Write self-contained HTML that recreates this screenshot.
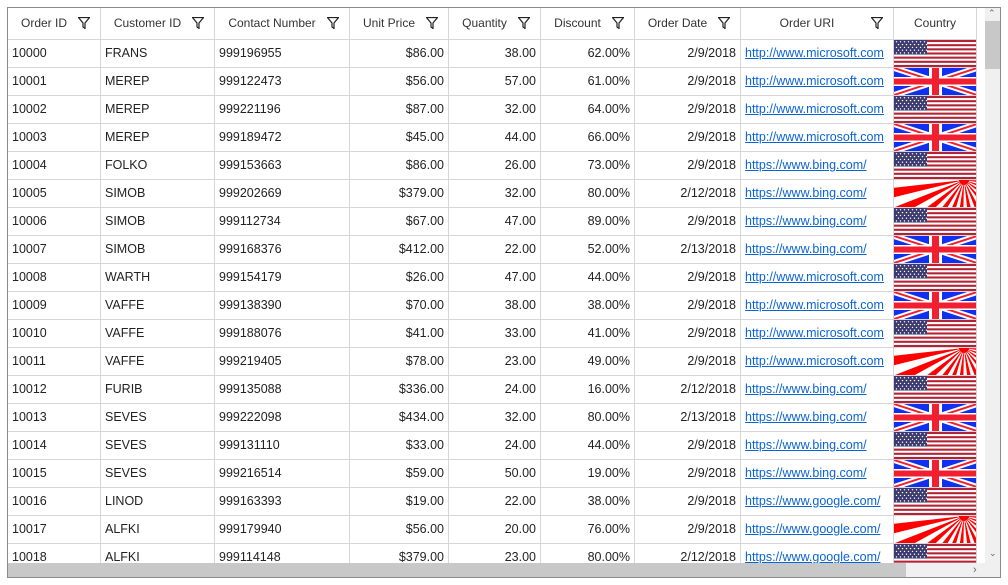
<!DOCTYPE html>
<html style="overflow:hidden;height:585px"><head><meta charset="utf-8">
<style>
body{margin:0;width:1008px;height:585px;background:#fff;font-family:"Liberation Sans",sans-serif;font-size:12.5px;color:#222;overflow:hidden;position:relative}
#grid{position:absolute;left:7px;top:7px;width:994px;height:571px;border:1px solid #8a8a8a;box-sizing:border-box;overflow:hidden}
.cell{position:absolute;box-sizing:border-box;border-right:1px solid #d6d6d6;border-bottom:1px solid #d6d6d6;height:28px;line-height:27px;padding:0 4px;white-space:nowrap;overflow:hidden}
.hd{height:32px;line-height:31px;text-align:center;color:#333;font-size:12px}
.r{text-align:right}
a{color:#0a64d6;text-decoration:underline}
.filt{position:absolute;right:10px;top:9px}
</style></head><body>
<div id="grid"></div>
<svg width="0" height="0" style="position:absolute;left:0;top:0">
<defs>
<symbol id="us" viewBox="0 0 83 27">
<rect width="83" height="27" fill="#fff"/>
<g fill="#b22234" id="stripes"></g>
<rect width="33" height="14.5" fill="#3c3b6e"/>
<g id="stars" fill="#fff"></g>
</symbol>
<symbol id="uk" viewBox="0 0 83 27">
<rect width="83" height="27" fill="#1030f0"/>
<path d="M0 0 L83 27 M83 0 L0 27" stroke="#fff" stroke-width="6"/>
<path d="M0 0 L83 27 M83 0 L0 27" stroke="#f02030" stroke-width="2"/>
<rect x="0" y="9" width="83" height="9" fill="#fff"/>
<rect x="35" y="0" width="13" height="27" fill="#fff"/>
<rect x="0" y="10.5" width="83" height="6" fill="#f02030"/>
<rect x="38" y="0" width="7" height="27" fill="#f02030"/>
</symbol>
<symbol id="jp" viewBox="0 0 83 27">
<rect width="83" height="27" fill="#fff"/>
<g id="rays" fill="#f00"></g>
<circle cx="70" cy="0" r="5" fill="#f00"/>
</symbol>
</defs>
</svg>
<script>
const orderIds=[10000,10001,10002,10003,10004,10005,10006,10007,10008,10009,10010,10011,10012,10013,10014,10015,10016,10017,10018];
const customers=["FRANS","MEREP","MEREP","MEREP","FOLKO","SIMOB","SIMOB","SIMOB","WARTH","VAFFE","VAFFE","VAFFE","FURIB","SEVES","SEVES","SEVES","LINOD","ALFKI","ALFKI"];
const contacts=["999196955","999122473","999221196","999189472","999153663","999202669","999112734","999168376","999154179","999138390","999188076","999219405","999135088","999222098","999131110","999216514","999163393","999179940","999114148"];
const prices=["$86.00","$56.00","$87.00","$45.00","$86.00","$379.00","$67.00","$412.00","$26.00","$70.00","$41.00","$78.00","$336.00","$434.00","$33.00","$59.00","$19.00","$56.00","$379.00"];
const qtys=["38.00","57.00","32.00","44.00","26.00","32.00","47.00","22.00","47.00","38.00","33.00","23.00","24.00","32.00","24.00","50.00","22.00","20.00","23.00"];
const discounts=["62.00%","61.00%","64.00%","66.00%","73.00%","80.00%","89.00%","52.00%","44.00%","38.00%","41.00%","49.00%","16.00%","80.00%","44.00%","19.00%","38.00%","76.00%","80.00%"];
const dates=["2/9/2018","2/9/2018","2/9/2018","2/9/2018","2/9/2018","2/12/2018","2/9/2018","2/13/2018","2/9/2018","2/9/2018","2/9/2018","2/9/2018","2/12/2018","2/13/2018","2/9/2018","2/9/2018","2/9/2018","2/9/2018","2/12/2018"];
const uris=["http://www.microsoft.com","http://www.microsoft.com","http://www.microsoft.com","http://www.microsoft.com","https://www.bing.com/","https://www.bing.com/","https://www.bing.com/","https://www.bing.com/","http://www.microsoft.com","http://www.microsoft.com","http://www.microsoft.com","http://www.microsoft.com","https://www.bing.com/","https://www.bing.com/","https://www.bing.com/","https://www.bing.com/","https://www.google.com/","https://www.google.com/","https://www.google.com/"];
const flags=["us","uk","us","uk","us","jp","us","uk","us","uk","us","jp","us","uk","us","uk","us","jp","us"];
const headers=["Order ID","Customer ID","Contact Number","Unit Price","Quantity","Discount","Order Date","Order URI","Country"];

const ns="http://www.w3.org/2000/svg";
const st=document.getElementById('stripes');
for(let i=0;i<13;i+=2){const r=document.createElementNS(ns,'rect');r.setAttribute('x',0);r.setAttribute('y',i*27/13);r.setAttribute('width',83);r.setAttribute('height',27/13);st.appendChild(r);}
const stars=document.getElementById('stars');
for(let y=0;y<5;y++)for(let x=0;x<8;x++){const c=document.createElementNS(ns,'circle');c.setAttribute('cx',2.5+x*4+(y%2)*2);c.setAttribute('cy',1.8+y*2.8);c.setAttribute('r',0.7);stars.appendChild(c);}
const rays=document.getElementById('rays');
for(let k=0;k<24;k+=2){const a1=Math.PI*k/24+0.02,a2=Math.PI*(k+1)/24+0.02;const p=document.createElementNS(ns,'polygon');p.setAttribute('points',`70,0 ${70+200*Math.cos(a1)},${200*Math.sin(a1)} ${70+200*Math.cos(a2)},${200*Math.sin(a2)}`);rays.appendChild(p);}

const g=document.getElementById('grid');
const cols=[0,93,207,342,441,533,627,733,886,969];
const aligns=["","","","r","r","r","r","",""];
function add(html,x,y,w,cls,name,inter){const d=document.createElement('div');d.className='cell '+cls;d.style.left=x+'px';d.style.top=y+'px';d.style.width=w+'px';d.innerHTML=html;


g.appendChild(d);return d;}
const filt='<svg class="filt" width="12" height="12" viewBox="0 0 12 12"><path d="M0.5 0.5H11.5L7 6V11.5L5 10V6Z" fill="none" stroke="#222" stroke-width="1.2"/></svg>';
headers.forEach((h,i)=>{
  const d=add(h+(i<8?filt:''),cols[i],0,cols[i+1]-cols[i],'hd',h.toLowerCase().replace(/ /g,'-')+'-header',true);
  if(i<8){d.style.paddingRight='24px';}
});
for(let r=0;r<orderIds.length;r++){
  const y=32+r*28;
  const vals=[orderIds[r],customers[r],contacts[r],prices[r],qtys[r],discounts[r],dates[r],'<a>'+uris[r]+'</a>',''];
  for(let c=0;c<9;c++){
    const d=add(vals[c],cols[c],y,cols[c+1]-cols[c],aligns[c],'cell-'+headers[c].toLowerCase().replace(/ /g,'-'),c==7);
    if(c==8){d.style.padding='0';d.innerHTML='<svg width="83" height="27" style="display:block"><use href="#'+flags[r]+'"/></svg>';}
  }
}
const vs=document.createElement('div');vs.style.cssText='position:absolute;left:977px;top:0;width:16px;height:555px;background:#f0f0f0';


vs.innerHTML='<div style="position:absolute;left:3px;top:0;font-size:9px;color:#666">&#8963;</div><div style="position:absolute;left:0;top:13px;width:16px;height:48px;background:#c8c8c8"></div><div style="position:absolute;left:4px;top:540px;font-size:9px;color:#666">&#8964;</div>';
g.appendChild(vs);
const hs=document.createElement('div');hs.style.cssText='position:absolute;left:0;top:555px;width:993px;height:15px;background:#f0f0f0';


hs.innerHTML='<div style="position:absolute;left:0;top:0;width:898px;height:15px;background:#c8c8c8"></div><div style="position:absolute;left:965px;top:0;font-size:11px;color:#666;line-height:15px">&#8250;</div>';
g.appendChild(hs);
</script>
</body></html>
